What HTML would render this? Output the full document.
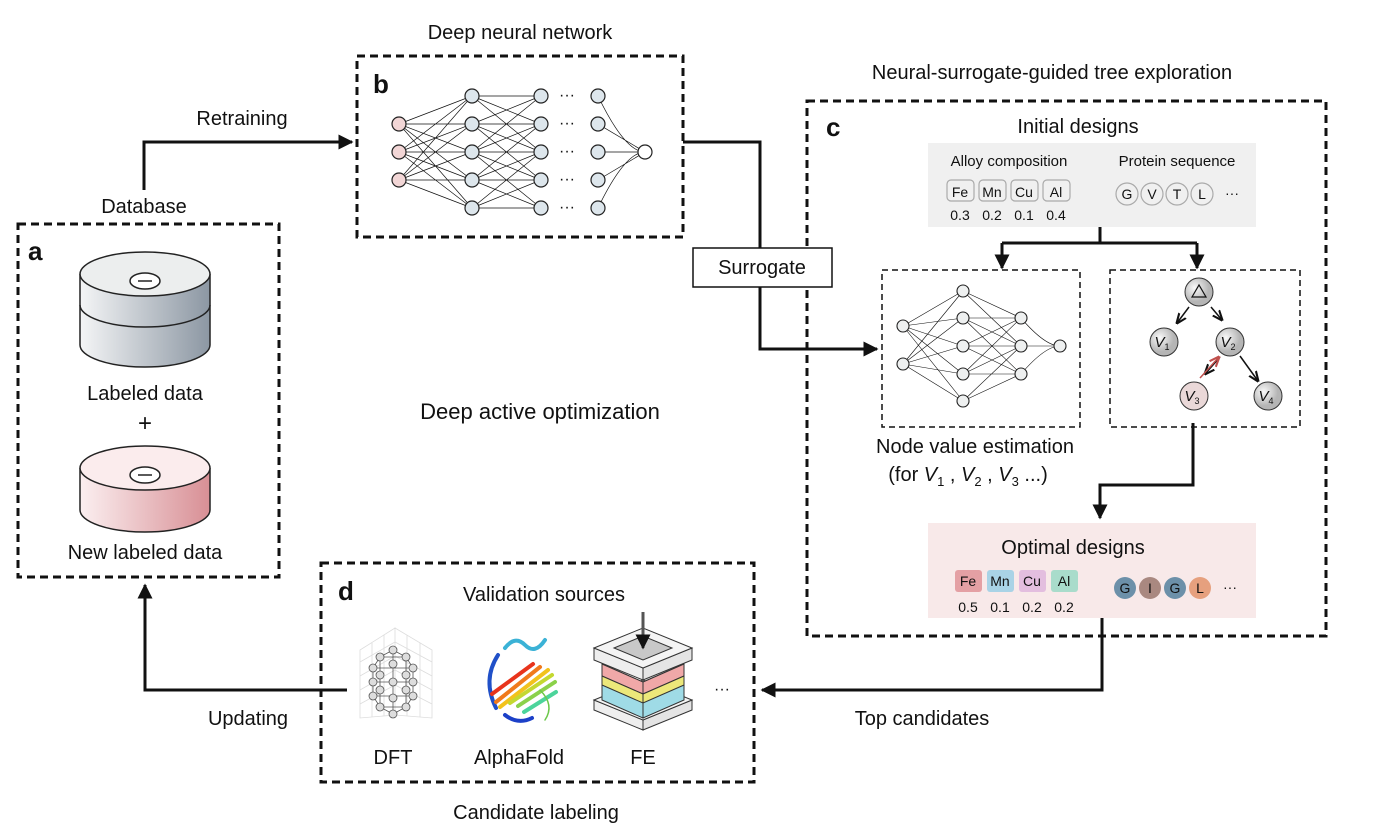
<!DOCTYPE html>
<html><head><meta charset="utf-8"><style>body{margin:0;background:#fff}svg{display:block}text{font-family:"Liberation Sans",sans-serif;fill:#111}</style></head><body>
<svg width="1388" height="834" viewBox="0 0 1388 834" xmlns="http://www.w3.org/2000/svg">
<defs>
<marker id="ar" viewBox="0 0 10 10" refX="9" refY="5" markerWidth="5" markerHeight="5" orient="auto"><path d="M0,0L10,5L0,10z" fill="#111"/></marker>
<marker id="sa" viewBox="0 0 10 10" refX="9" refY="5" markerWidth="7" markerHeight="7" orient="auto"><path d="M0,1L10,5L0,9" fill="none" stroke="#111" stroke-width="2"/></marker>
<marker id="ra" viewBox="0 0 10 10" refX="9" refY="5" markerWidth="7" markerHeight="7" orient="auto"><path d="M0,1L10,5L0,9" fill="none" stroke="#c0504d" stroke-width="2"/></marker>
<linearGradient id="gg" x1="0" x2="1"><stop offset="0" stop-color="#f4f5f6"/><stop offset="1" stop-color="#8c97a3"/></linearGradient>
<linearGradient id="pg" x1="0" x2="1"><stop offset="0" stop-color="#fbeff0"/><stop offset="1" stop-color="#d88f95"/></linearGradient>
<radialGradient id="nd" cx=".35" cy=".35"><stop offset="0" stop-color="#fafafa"/><stop offset="1" stop-color="#b5b5b5"/></radialGradient>
</defs>
<g fill="none" stroke="#111" stroke-width="3" stroke-dasharray="8,5">
<rect x="18" y="224" width="261" height="353"/>
<rect x="357" y="56" width="326" height="181"/>
<rect x="807" y="101" width="519" height="535"/>
<rect x="321" y="563" width="433" height="219"/>
</g>
<g fill="none" stroke="#111" stroke-width="1.5" stroke-dasharray="6,4">
<rect x="882" y="270" width="198" height="157"/>
<rect x="1110" y="270" width="190" height="157"/>
</g>
<g font-weight="bold" font-size="26"><text x="28" y="260">a</text><text x="373" y="93">b</text><text x="826" y="136">c</text><text x="338" y="600">d</text></g>
<g font-size="20" text-anchor="middle">
<text x="144" y="213">Database</text><text x="242" y="125">Retraining</text><text x="520" y="39">Deep neural network</text>
<text x="1052" y="79">Neural-surrogate-guided tree exploration</text><text x="1078" y="133">Initial designs</text>
<text x="145" y="400">Labeled data</text><text x="145" y="431" font-size="24">+</text><text x="145" y="559">New labeled data</text>
<text x="540" y="419" font-size="22">Deep active optimization</text>
<text x="975" y="453">Node value estimation</text><text x="968" y="481">(for <tspan font-style="italic">V</tspan><tspan font-size="13" dy="5">1</tspan><tspan dy="-5"> , </tspan><tspan font-style="italic">V</tspan><tspan font-size="13" dy="5">2</tspan><tspan dy="-5"> , </tspan><tspan font-style="italic">V</tspan><tspan font-size="13" dy="5">3</tspan><tspan dy="-5"> ...)</tspan></text>
<text x="544" y="601">Validation sources</text><text x="393" y="764">DFT</text><text x="519" y="764">AlphaFold</text><text x="643" y="764">FE</text>
<text x="536" y="819">Candidate labeling</text><text x="248" y="725">Updating</text><text x="922" y="725">Top candidates</text>
</g>
<!-- connectors -->
<g fill="none" stroke="#111" stroke-width="3">
<path d="M144,190V142H352" marker-end="url(#ar)"/>
<path d="M683,142H760V349H877" marker-end="url(#ar)"/>
<path d="M1100,227V243M1002,243H1197M1002,243V267M1197,243V267"/>
<path d="M1002,250V268" marker-end="url(#ar)"/><path d="M1197,250V268" marker-end="url(#ar)"/>
<path d="M1193,423V485H1100V518" marker-end="url(#ar)"/>
<path d="M1102,612V690H762" marker-end="url(#ar)"/>
<path d="M347,690H145V585" marker-end="url(#ar)"/>
</g>
<rect x="693" y="248" width="139" height="39" fill="#fff" stroke="#111" stroke-width="1.5"/>
<text x="762" y="274" font-size="20" text-anchor="middle">Surrogate</text>
<!-- cylinders -->
<g stroke="#222" stroke-width="1.5">
<path d="M80,274V345A65,22 0 0 0 210,345V274" fill="url(#gg)"/>
<path d="M80,305A65,22 0 0 0 210,305" fill="none"/>
<ellipse cx="145" cy="274" rx="65" ry="22" fill="#eceeee"/>
<ellipse cx="145" cy="281" rx="15" ry="8" fill="#fff"/><path d="M138,281H152"/>
<path d="M80,468V510A65,22 0 0 0 210,510V468" fill="url(#pg)"/>
<ellipse cx="145" cy="468" rx="65" ry="22" fill="#fbeced"/>
<ellipse cx="145" cy="475" rx="15" ry="8" fill="#fff"/><path d="M138,475H152"/>
</g>
<!-- network b -->
<g stroke="#111" stroke-width="0.7" fill="none">
<path d="M399,124L472,96M399,124L472,124M399,124L472,152M399,124L472,180M399,124L472,208M399,152L472,96M399,152L472,124M399,152L472,152M399,152L472,180M399,152L472,208M399,180L472,96M399,180L472,124M399,180L472,152M399,180L472,180M399,180L472,208"/>
<path d="M472,96L541,96M472,96L541,124M472,96L541,152M472,124L541,96M472,124L541,124M472,124L541,152M472,124L541,180M472,152L541,96M472,152L541,124M472,152L541,152M472,152L541,180M472,152L541,208M472,180L541,124M472,180L541,152M472,180L541,180M472,180L541,208M472,208L541,152M472,208L541,180M472,208L541,208"/>
<path d="M598,96Q625,152 645,152M598,124L645,152M598,152L645,152M598,180L645,152M598,208Q625,152 645,152"/>
</g>
<g stroke="#222" stroke-width="1.2">
<g fill="#f2d6d6"><circle cx="399" cy="124" r="7"/><circle cx="399" cy="152" r="7"/><circle cx="399" cy="180" r="7"/></g>
<g fill="#dde6ec"><circle cx="472" cy="96" r="7"/><circle cx="472" cy="124" r="7"/><circle cx="472" cy="152" r="7"/><circle cx="472" cy="180" r="7"/><circle cx="472" cy="208" r="7"/>
<circle cx="541" cy="96" r="7"/><circle cx="541" cy="124" r="7"/><circle cx="541" cy="152" r="7"/><circle cx="541" cy="180" r="7"/><circle cx="541" cy="208" r="7"/>
<circle cx="598" cy="96" r="7"/><circle cx="598" cy="124" r="7"/><circle cx="598" cy="152" r="7"/><circle cx="598" cy="180" r="7"/><circle cx="598" cy="208" r="7"/></g>
<circle cx="645" cy="152" r="7" fill="#fff"/>
</g>
<g font-size="16" text-anchor="middle"><text x="567" y="100">···</text><text x="567" y="128">···</text><text x="567" y="156">···</text><text x="567" y="184">···</text><text x="567" y="212">···</text></g>
<!-- initial designs -->
<rect x="928" y="143" width="328" height="84" fill="#f0f0f0"/>
<g font-size="15" text-anchor="middle"><text x="1009" y="166">Alloy composition</text><text x="1177" y="166">Protein sequence</text></g>
<g fill="none" stroke="#aaa" stroke-width="1.2"><rect x="947" y="180" width="27" height="21" rx="4"/><rect x="979" y="180" width="27" height="21" rx="4"/><rect x="1011" y="180" width="27" height="21" rx="4"/><rect x="1043" y="180" width="27" height="21" rx="4"/>
<circle cx="1127" cy="194" r="11"/><circle cx="1152" cy="194" r="11"/><circle cx="1177" cy="194" r="11"/><circle cx="1202" cy="194" r="11"/></g>
<g font-size="14" text-anchor="middle"><text x="960" y="197" fill="#666">Fe</text><text x="992" y="197" fill="#666">Mn</text><text x="1024" y="197" fill="#666">Cu</text><text x="1056" y="197" fill="#666">Al</text>
<text x="1127" y="199" fill="#666">G</text><text x="1152" y="199" fill="#666">V</text><text x="1177" y="199" fill="#666">T</text><text x="1202" y="199" fill="#666">L</text><text x="1232" y="198" fill="#666">···</text>
<text x="960" y="220" fill="#666">0.3</text><text x="992" y="220" fill="#666">0.2</text><text x="1024" y="220" fill="#666">0.1</text><text x="1056" y="220" fill="#666">0.4</text></g>
<!-- small network -->
<g stroke="#111" stroke-width="0.6" fill="none">
<path d="M903,326L963,291M903,326L963,318M903,326L963,346M903,326L963,374M903,326L963,401M903,364L963,291M903,364L963,318M903,364L963,346M903,364L963,374M903,364L963,401"/>
<path d="M963,291L1021,318M963,291L1021,346M963,318L1021,318M963,318L1021,346M963,318L1021,374M963,346L1021,318M963,346L1021,346M963,346L1021,374M963,374L1021,318M963,374L1021,346M963,374L1021,374M963,401L1021,346M963,401L1021,374"/>
<path d="M1021,318Q1045,346 1060,346M1021,346L1060,346M1021,374Q1045,346 1060,346"/>
</g>
<g fill="#eef0f0" stroke="#222" stroke-width="1.1"><circle cx="903" cy="326" r="6"/><circle cx="903" cy="364" r="6"/><circle cx="963" cy="291" r="6"/><circle cx="963" cy="318" r="6"/><circle cx="963" cy="346" r="6"/><circle cx="963" cy="374" r="6"/><circle cx="963" cy="401" r="6"/><circle cx="1021" cy="318" r="6"/><circle cx="1021" cy="346" r="6"/><circle cx="1021" cy="374" r="6"/><circle cx="1060" cy="346" r="6"/></g>
<!-- tree -->
<g stroke="#111" stroke-width="1.5" fill="none">
<path d="M1189,307L1177,323" marker-end="url(#sa)"/><path d="M1211,307L1222,320" marker-end="url(#sa)"/>
<path d="M1220,357L1205,374" marker-end="url(#sa)"/><path d="M1240,356L1258,381" marker-end="url(#sa)"/>
<path d="M1200,378L1219,357" stroke="#c0504d" marker-end="url(#ra)"/>
</g>
<g stroke="#333" stroke-width="1"><circle cx="1199" cy="292" r="14" fill="url(#nd)"/><circle cx="1164" cy="342" r="14" fill="url(#nd)"/><circle cx="1230" cy="342" r="14" fill="url(#nd)"/><circle cx="1194" cy="396" r="14" fill="#ead8d8"/><circle cx="1268" cy="396" r="14" fill="url(#nd)"/></g>
<path d="M1192,297L1199,285L1206,297Z" fill="none" stroke="#111" stroke-width="1.2"/>
<g font-size="15" font-style="italic" text-anchor="middle"><text x="1162" y="347">V<tspan font-size="9" dy="3" font-style="normal">1</tspan></text><text x="1228" y="347">V<tspan font-size="9" dy="3" font-style="normal">2</tspan></text><text x="1192" y="401">V<tspan font-size="9" dy="3" font-style="normal">3</tspan></text><text x="1266" y="401">V<tspan font-size="9" dy="3" font-style="normal">4</tspan></text></g>
<!-- optimal -->
<rect x="928" y="523" width="328" height="95" fill="#f8e9e9"/>
<text x="1073" y="554" font-size="20" text-anchor="middle">Optimal designs</text>
<rect x="955" y="570" width="27" height="22" rx="3" fill="#e4a0a4"/><rect x="987" y="570" width="27" height="22" rx="3" fill="#a9d3e6"/><rect x="1019" y="570" width="27" height="22" rx="3" fill="#e3bedf"/><rect x="1051" y="570" width="27" height="22" rx="3" fill="#a9dccb"/>
<circle cx="1125" cy="588" r="11" fill="#6c90a9"/><circle cx="1150" cy="588" r="11" fill="#a98880"/><circle cx="1175" cy="588" r="11" fill="#6c90a9"/><circle cx="1200" cy="588" r="11" fill="#e6a07e"/>
<g font-size="14" text-anchor="middle"><text x="968" y="586">Fe</text><text x="1000" y="586">Mn</text><text x="1032" y="586">Cu</text><text x="1064" y="586">Al</text>
<text x="1125" y="593">G</text><text x="1150" y="593">I</text><text x="1175" y="593">G</text><text x="1200" y="593">L</text><text x="1230" y="592">···</text>
<text x="968" y="612">0.5</text><text x="1000" y="612">0.1</text><text x="1032" y="612">0.2</text><text x="1064" y="612">0.2</text></g>
<!-- DFT -->
<g stroke="#ddd" stroke-width="0.8" fill="none">
<path d="M360,650L395,628V715L360,718ZM395,628L432,650V718L395,715Z"/>
<path d="M360,662L395,642L432,662M360,676L395,656L432,676M360,690L395,670L432,690M360,704L395,685L432,704M372,643V717M384,635V716M407,635V716M420,643V717"/>
</g>
<g stroke="#555" stroke-width="0.8">
<path d="M373,668L413,668M373,682L413,682M373,696L413,696M380,657L406,657M380,707L406,707M373,668L380,657L393,650L406,657L413,668M373,696L380,707L393,714L406,707L413,696M373,668V696M413,668V696M393,650V714M380,657V707M406,657V707" fill="none"/>
<g fill="#ddd"><circle cx="393" cy="650" r="4"/><circle cx="380" cy="657" r="4"/><circle cx="406" cy="657" r="4"/><circle cx="373" cy="668" r="4"/><circle cx="393" cy="664" r="4"/><circle cx="413" cy="668" r="4"/><circle cx="380" cy="675" r="4"/><circle cx="406" cy="675" r="4"/><circle cx="373" cy="682" r="4"/><circle cx="393" cy="682" r="4"/><circle cx="413" cy="682" r="4"/><circle cx="380" cy="690" r="4"/><circle cx="406" cy="690" r="4"/><circle cx="373" cy="696" r="4"/><circle cx="393" cy="698" r="4"/><circle cx="413" cy="696" r="4"/><circle cx="380" cy="707" r="4"/><circle cx="406" cy="707" r="4"/><circle cx="393" cy="714" r="4"/></g>
</g>
<!-- AlphaFold -->
<g fill="none" stroke-width="4" stroke-linecap="round">
<path d="M505,648Q515,635 525,645Q535,655 545,640" stroke="#3bb2d6"/>
<path d="M498,655Q482,680 496,708" stroke="#2050c8"/>
<path d="M492,694L533,664" stroke="#e8341c"/><path d="M496,702L540,667" stroke="#f07a1c"/><path d="M500,707L548,670" stroke="#f2c21c"/>
<path d="M510,703L552,675" stroke="#c4d830"/><path d="M518,706L555,682" stroke="#8bd14a"/><path d="M524,712L556,692" stroke="#4cd49b"/>
<path d="M505,715Q518,725 532,718" stroke="#1c40c8"/>
<path d="M540,690Q555,705 545,720" stroke="#6cc84a" stroke-width="1.5"/>
</g>
<!-- FE -->
<g stroke="#333" stroke-width="1">
<path d="M594,700L643,720V730L594,710Z" fill="#eee"/><path d="M692,700L643,720V730L692,710Z" fill="#e4e4e4"/>
<path d="M594,700L643,680L692,700L643,720Z" fill="#f4f4f4"/>
<path d="M602,664L643,682V718L602,700Z" fill="#9fdbe6"/><path d="M684,664L643,682V718L684,700Z" fill="#9fdbe6"/>
<path d="M602,664L643,682V694L602,676Z" fill="#f0a8a8"/><path d="M684,664L643,682V694L684,676Z" fill="#f0a8a8"/>
<path d="M602,676L643,694V703L602,685Z" fill="#ece87a"/><path d="M684,676L643,694V703L684,685Z" fill="#ece87a"/>
<path d="M594,648L643,668V680L594,660Z" fill="#eee"/><path d="M692,648L643,668V680L692,660Z" fill="#e4e4e4"/>
<path d="M594,648L643,628L692,648L643,668Z" fill="#f4f4f4"/>
<path d="M614,648L643,636L672,648L643,660Z" fill="#c8c8c8"/>
</g>
<path d="M643,612V648" stroke="#555" stroke-width="3" marker-end="url(#ar)"/>
<text x="714" y="694" font-size="16">···</text>
</svg>
</body></html>
